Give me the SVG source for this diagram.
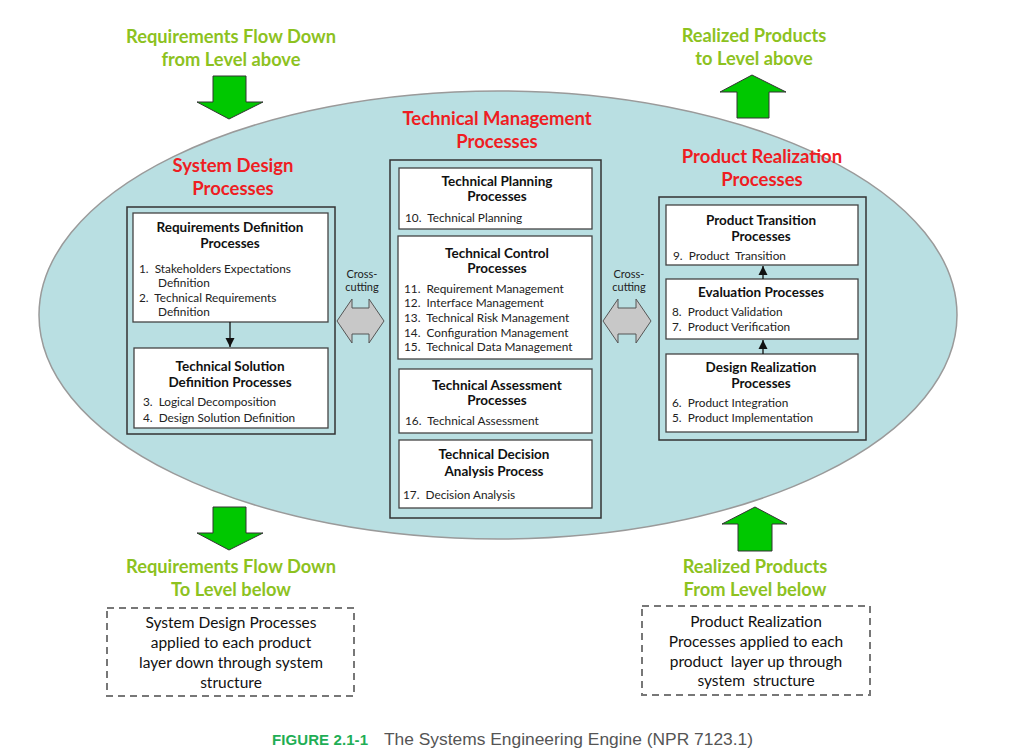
<svg xmlns="http://www.w3.org/2000/svg" width="1024" height="754" viewBox="0 0 1024 754">
<style>
.ttl{font-family:Lato,"Liberation Sans",sans-serif;font-weight:bold;font-size:18.5px;fill:#ee1d23;text-anchor:middle}
.grn{font-family:Lato,"Liberation Sans",sans-serif;font-weight:bold;font-size:18.3px;fill:#8dc21f;text-anchor:middle}
.hd{font-family:Lato,"Liberation Sans",sans-serif;font-weight:bold;font-size:13.5px;fill:#111;text-anchor:middle}
.it{font-family:Lato,"Liberation Sans",sans-serif;font-size:11.8px;fill:#222;white-space:pre}
.cc{font-family:Lato,"Liberation Sans",sans-serif;font-size:11px;fill:#222;text-anchor:middle}
.note{font-family:Lato,"Liberation Sans",sans-serif;font-size:15.5px;fill:#111;text-anchor:middle;white-space:pre}
.outer{fill:none;stroke:#333;stroke-width:1.5}
.inner{fill:#fff;stroke:#444;stroke-width:1.3}
.garrow{fill:#00c800;stroke:#333;stroke-width:1}
.xarrow{fill:#c8c8c8;stroke:#555;stroke-width:1}
.dash{fill:#fff;stroke:#777;stroke-width:2;stroke-dasharray:7,5}
.link{stroke:#111;stroke-width:1.3;fill:none}
</style>
<defs>
<marker id="ah" viewBox="0 0 10 10" refX="10" refY="5" markerWidth="7" markerHeight="7" orient="auto"><path d="M0,0 L10,5 L0,10 z" fill="#111"/></marker>
</defs>
<rect width="1024" height="754" fill="#fff"/>
<g id="engine">
<ellipse cx="498" cy="315" rx="459" ry="224" fill="#b9dfe2" stroke="#9a9a9a" stroke-width="1.5"/>
</g>

<g id="flow-top-left">
<text class="grn" x="231" y="43">Requirements Flow Down</text>
<text class="grn" x="231" y="66">from Level above</text>
<polygon class="garrow" points="213,76 246,76 246,102 263,102 229,119 197,102 213,102"/>
</g>
<g id="flow-top-right">
<text class="grn" x="754" y="42">Realized Products</text>
<text class="grn" x="754" y="65">to Level above</text>
<polygon class="garrow" points="752,75 786,92 769,92 769,118 737,118 737,92 720,92"/>
</g>

<g id="system-design">
<text class="ttl" x="233" y="172">System Design</text>
<text class="ttl" x="233" y="195">Processes</text>
<rect class="outer" x="127" y="207" width="208" height="227"/>
</g>
<g id="req-def">
<rect class="inner" x="133" y="213" width="195" height="109"/>
<text class="hd" x="230" y="232">Requirements Definition</text>
<text class="hd" x="230" y="248">Processes</text>
<text class="it" x="139" y="273">1.  Stakeholders Expectations</text>
<text class="it" x="158" y="287">Definition</text>
<text class="it" x="139" y="302">2.  Technical Requirements</text>
<text class="it" x="158" y="316">Definition</text>
</g>
<g id="tech-sol">
<rect class="inner" x="134" y="348" width="194" height="80"/>
<text class="hd" x="230" y="371">Technical Solution</text>
<text class="hd" x="230" y="387">Definition Processes</text>
<text class="it" x="143" y="406">3.  Logical Decomposition</text>
<text class="it" x="143" y="422">4.  Design Solution Definition</text>
</g>

<g id="tech-mgmt">
<text class="ttl" x="497" y="125">Technical Management</text>
<text class="ttl" x="497" y="148">Processes</text>
<rect class="outer" x="390" y="160" width="211" height="358"/>
</g>
<g id="tech-planning">
<rect class="inner" x="399" y="168" width="193" height="61"/>
<text class="hd" x="497" y="186">Technical Planning</text>
<text class="hd" x="497" y="201">Processes</text>
<text class="it" x="405" y="222">10.  Technical Planning</text>
</g>
<g id="tech-control">
<rect class="inner" x="398" y="236" width="194" height="123"/>
<text class="hd" x="497" y="258">Technical Control</text>
<text class="hd" x="497" y="273">Processes</text>
<text class="it" x="404" y="293">11.  Requirement Management</text>
<text class="it" x="404" y="307">12.  Interface Management</text>
<text class="it" x="404" y="322">13.  Technical Risk Management</text>
<text class="it" x="404" y="337">14.  Configuration Management</text>
<text class="it" x="404" y="351">15.  Technical Data Management</text>
</g>
<g id="tech-assess">
<rect class="inner" x="399" y="369" width="193" height="64"/>
<text class="hd" x="497" y="390">Technical Assessment</text>
<text class="hd" x="497" y="405">Processes</text>
<text class="it" x="405" y="425">16.  Technical Assessment</text>
</g>
<g id="tech-decision">
<rect class="inner" x="399" y="440" width="193" height="68"/>
<text class="hd" x="494" y="459">Technical Decision</text>
<text class="hd" x="494" y="476">Analysis Process</text>
<text class="it" x="403" y="499">17.  Decision Analysis</text>
</g>

<g id="product-realization">
<text class="ttl" x="762" y="163">Product Realization</text>
<text class="ttl" x="762" y="186">Processes</text>
<rect class="outer" x="659" y="197" width="207" height="243"/>
</g>
<g id="product-transition">
<rect class="inner" x="666" y="205" width="192" height="60"/>
<text class="hd" x="761" y="225">Product Transition</text>
<text class="hd" x="761" y="241">Processes</text>
<text class="it" x="673" y="260">9.  Product  Transition</text>
</g>
<g id="evaluation">
<rect class="inner" x="666" y="279" width="192" height="60"/>
<text class="hd" x="761" y="297">Evaluation Processes</text>
<text class="it" x="672" y="316">8.  Product Validation</text>
<text class="it" x="672" y="331">7.  Product Verification</text>
</g>
<g id="design-realization">
<rect class="inner" x="666" y="354" width="192" height="78"/>
<text class="hd" x="761" y="372">Design Realization</text>
<text class="hd" x="761" y="388">Processes</text>
<text class="it" x="672" y="407">6.  Product Integration</text>
<text class="it" x="672" y="422">5.  Product Implementation</text>
</g>

<g id="crosscut-left">
<text class="cc" x="362" y="278">Cross-</text>
<text class="cc" x="362" y="291">cutting</text>
<polygon class="xarrow" points="337,321 352,299 352,308 369,308 369,299 384,321 369,343 369,334 352,334 352,343"/>
</g>
<g id="crosscut-right">
<text class="cc" x="629" y="278">Cross-</text>
<text class="cc" x="629" y="291">cutting</text>
<polygon class="xarrow" points="603,321 618,299 618,308 636,308 636,299 651,321 636,343 636,334 618,334 618,343"/>
</g>

<g id="connectors">
<line class="link" x1="230" y1="322" x2="230" y2="347" marker-end="url(#ah)"/>
<line class="link" x1="763" y1="354" x2="763" y2="340" marker-end="url(#ah)"/>
<line class="link" x1="763" y1="279" x2="763" y2="266" marker-end="url(#ah)"/>
</g>

<g id="flow-bottom-left">
<polygon class="garrow" points="213,507 246,507 246,533 263,533 229,550 197,533 213,533"/>
<text class="grn" x="231" y="573">Requirements Flow Down</text>
<text class="grn" x="231" y="596">To Level below</text>
</g>
<g id="note-left">
<rect class="dash" x="107" y="608" width="247" height="88"/>
<text class="note" x="231" y="628">System Design Processes</text>
<text class="note" x="231" y="648">applied to each product</text>
<text class="note" x="231" y="668">layer down through system</text>
<text class="note" x="231" y="688">structure</text>
</g>
<g id="flow-bottom-right">
<polygon class="garrow" points="755,507 787,524 772,524 772,551 738,551 738,524 722,524"/>
<text class="grn" x="755" y="573">Realized Products</text>
<text class="grn" x="755" y="596">From Level below</text>
</g>
<g id="note-right">
<rect class="dash" x="642" y="606" width="228" height="89"/>
<text class="note" x="756" y="627">Product Realization</text>
<text class="note" x="756" y="647">Processes applied to each</text>
<text class="note" x="756" y="667">product  layer up through</text>
<text class="note" x="756" y="686">system  structure</text>
</g>

<g id="caption">
<text x="272" y="745" font-family="'Liberation Sans',Arial,sans-serif" font-size="15" font-weight="bold" fill="#1fae55" textLength="96">FIGURE 2.1-1</text>
<text x="384" y="745" font-family="'Liberation Sans',Arial,sans-serif" font-size="16" fill="#555" textLength="369" lengthAdjust="spacingAndGlyphs">The Systems Engineering Engine (NPR 7123.1)</text>
</g>
</svg>
